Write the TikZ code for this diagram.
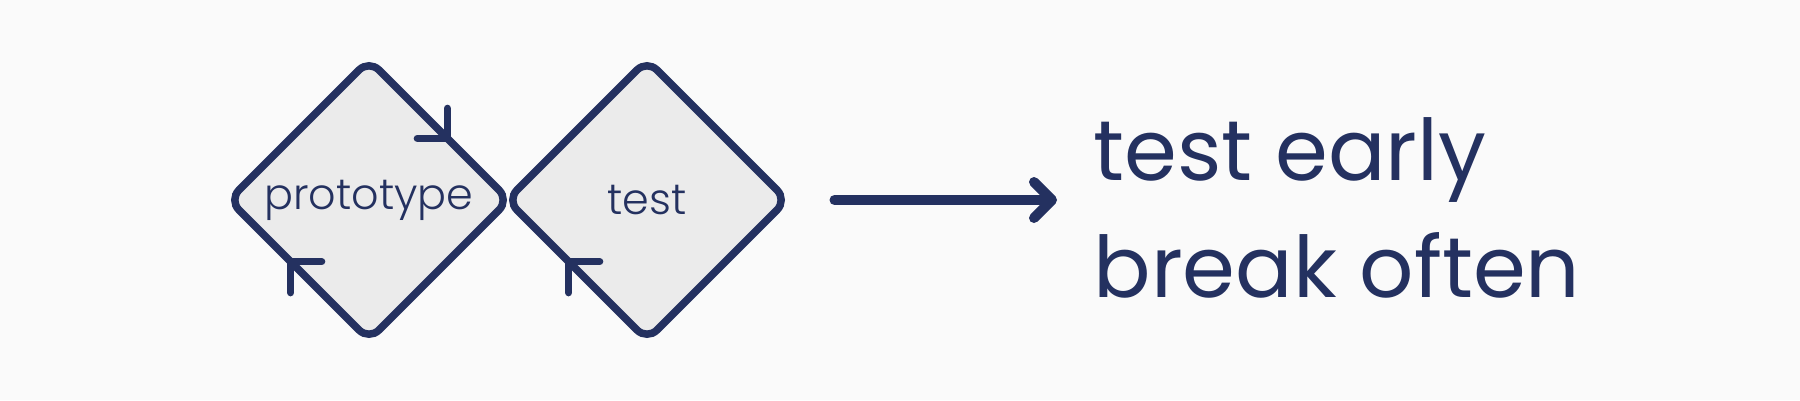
\documentclass[tikz,border=0pt]{standalone}
\usepackage{fontspec}
\setmainfont{Poppins}
\newfontfamily\thinfont{Poppins Light}
\usetikzlibrary{arrows.meta,positioning,shapes,calc}
\definecolor{navy}{HTML}{243160}
\definecolor{boxgray}{HTML}{EBEBEB}
\definecolor{bggray}{HTML}{FAFAFA}

\begin{document}
\begin{tikzpicture}[-,box/.style={diamond, draw=navy, fill=boxgray, line width=0.075cm, rounded corners=0.14cm, minimum width=2.8cm, minimum height=2.8cm, inner sep=0pt, outer sep=0pt, text=navy, font=\thinfont\fontsize{12.2}{15}\selectfont}, tick/.style={draw=navy, line width=0.075cm, line cap=round, line join=round}, flow/.style={draw=navy, line width=0.1cm, line cap=round, -{Straight Barb[length=0.18cm, width=0.36cm, round]}}]
\fill[bggray] (0,0) rectangle (18,4);
\useasboundingbox (0,0) rectangle (18,4);

\draw (3.69,2) node[box] (proto) {prototype};
\draw (6.47,2) node[box] (test) {test};
\node[anchor=west, align=left, inner sep=0pt, text=navy, font=\fontsize{24.2}{33.2}\selectfont] (slogan) at (10.93,1.92) {test early\\break often};

\coordinate (pA) at ($(proto.north)!0.56!(proto.east)$);
\coordinate (pB) at ($(proto.south)!0.56!(proto.west)$);
\coordinate (tB) at ($(test.south)!0.56!(test.west)$);

\draw[tick] ($(pA)+(0,0.3)$) -- (pA) -- ++(-0.3,0);
\draw[tick] ($(pB)+(0.31,0)$) -- (pB) -- ++(0,-0.31);
\draw[tick] ($(tB)+(0.31,0)$) -- (tB) -- ++(0,-0.31);

\draw[flow, shorten <=0.475cm, shorten >=0.36cm] (test.east) -- (test.east -| slogan.west);

\end{tikzpicture}
\end{document}
